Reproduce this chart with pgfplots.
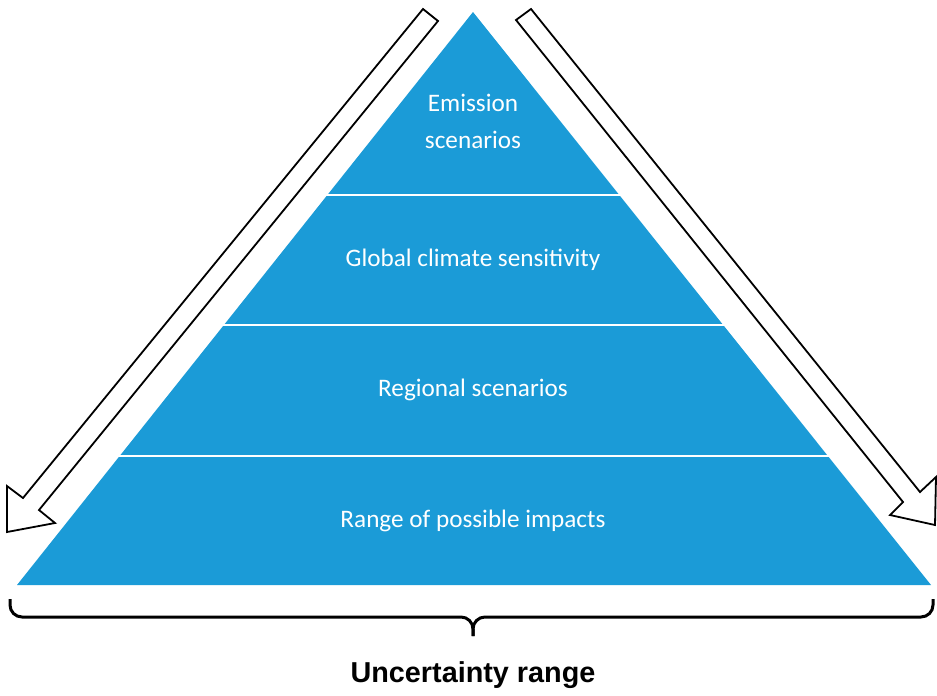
\documentclass[border=0pt]{standalone}
\usepackage{pgfplots}
\pgfplotsset{compat=1.18}
\usepackage{fontspec}
\setmainfont{Carlito}
\newfontfamily\arialbold{Liberation Sans}
\definecolor{pyrblue}{RGB}{27,155,215}
\begin{document}
\begin{tikzpicture}
\begin{axis}[
  width=468.5pt, height=346.5pt, scale only axis,
  xmin=0, xmax=937, ymin=0, ymax=693, y dir=reverse,
  hide axis, clip=false,
]
% background defining the frame
\addplot[fill=white, draw=none] coordinates {(0,0)(937,0)(937,693)(0,693)} -- cycle;
% pyramid
\addplot[fill=pyrblue, draw=none] coordinates {(473,12)(931,585)(17,585)} -- cycle;
% white separators
\addplot[white, line width=1.1pt] coordinates {(325,195)(622,195)};
\addplot[white, line width=1.1pt] coordinates {(222,325)(725,325)};
\addplot[white, line width=1.1pt] coordinates {(117,456)(829,456)};
% left hollow arrow
\addplot[draw=black, fill=white, line width=0.9pt, line join=miter] coordinates {(423,9)(438,21)(39,510)(55,523)(7,532)(7,486)(23,498)} -- cycle;
% right hollow arrow
\addplot[draw=black, fill=white, line width=0.9pt, line join=miter] coordinates {(516,20)(531,9)(920,492)(936,477)(935,525)(890,515)(903,502)} -- cycle;
% brace
\addplot[black, line width=1.5pt, rounded corners=6pt] coordinates {(10,599)(10,617)(473,617)(473,636)};
\addplot[black, line width=1.5pt, rounded corners=6pt] coordinates {(933,599)(933,617)(473,617)(473,636)};
% labels
\node[text=white, font=\fontsize{12.6}{15}\selectfont] at (473,103) {Emission};
\node[text=white, font=\fontsize{12.6}{15}\selectfont] at (473,140) {scenarios};
\node[text=white, font=\fontsize{12.6}{15}\selectfont] at (473,260) {Global climate sensitivity};
\node[text=white, font=\fontsize{12.6}{15}\selectfont] at (473,390) {Regional scenarios};
\node[text=white, font=\fontsize{12.6}{15}\selectfont] at (473,521) {Range of possible impacts};
\node[text=black, font=\arialbold\bfseries\fontsize{14.4}{17}\selectfont] at (473,675) {Uncertainty range};
\end{axis}
\end{tikzpicture}
\end{document}
